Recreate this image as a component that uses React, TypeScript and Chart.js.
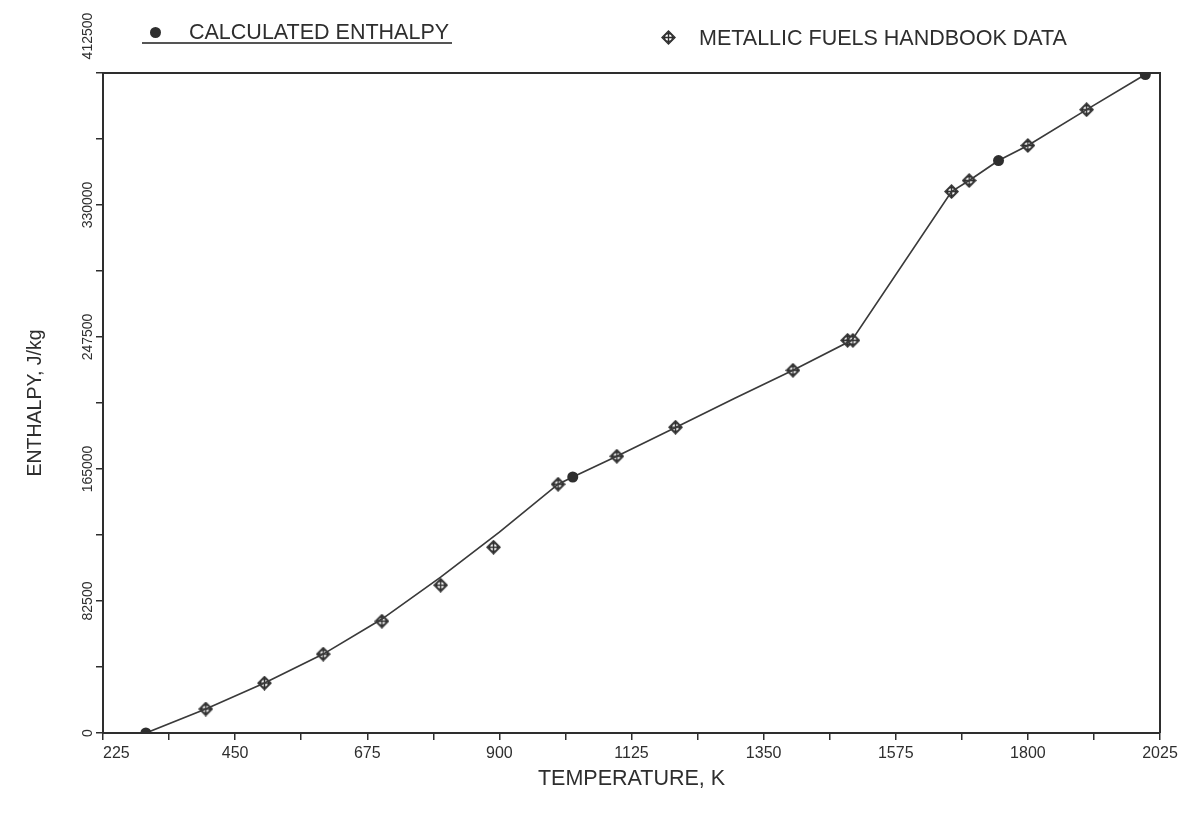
import React, { useEffect, useRef } from "react";
import { Chart, registerables } from "chart.js";

Chart.register(...registerables);

// Calculated enthalpy curve (K, J/kg)
const calcTemps = [298, 400, 500, 600, 700, 800, 900, 1000, 1025, 1100, 1200, 1300, 1400, 1500, 1670, 1700, 1750, 1800, 1900, 2000];
const calcEnthalpy = [0, 15000, 31200, 49300, 71200, 97400, 125500, 155500, 160000, 173000, 191000, 209000, 226700, 245400, 338400, 345300, 357800, 367200, 389600, 411500];
// Temperatures where the calculated curve shows a filled dot
const calcDotTemps = [298, 1025, 1750, 2000];

// Metallic Fuels Handbook data
const handbookTemps = [400, 500, 600, 700, 800, 890, 1000, 1100, 1200, 1400, 1493, 1502, 1670, 1700, 1800, 1900];
const handbookEnthalpy = [15000, 31200, 49300, 69900, 92400, 116100, 155500, 173000, 191100, 226700, 245400, 245400, 338400, 345300, 367200, 389600];

// Axis tick labels
const xTickLabels = [225, 450, 675, 900, 1125, 1350, 1575, 1800, 2025];
const yTickLabels = [0, 82500, 165000, 247500, 330000, 412500];

const FONT = '"Liberation Sans", Arial, Helvetica, sans-serif';
const INK = "#2e2e2e";
const W = 1186;
const H = 808;

function withMinor(major: number[]) {
  const out: number[] = [];
  major.forEach((v, i) => {
    out.push(v);
    if (i < major.length - 1) out.push((v + major[i + 1]) / 2);
  });
  return out;
}

function makeMarker() {
  const c = document.createElement("canvas");
  c.width = 15;
  c.height = 15;
  const g = c.getContext("2d")!;
  g.strokeStyle = INK;
  g.lineWidth = 1.4;
  g.fillStyle = "#ffffff";
  g.beginPath();
  g.moveTo(7.5, 1);
  g.lineTo(14, 7.5);
  g.lineTo(7.5, 14);
  g.lineTo(1, 7.5);
  g.closePath();
  g.fill();
  g.stroke();
  g.beginPath();
  g.arc(7.5, 7.5, 4, 0, Math.PI * 2);
  g.stroke();
  g.beginPath();
  g.moveTo(7.5, 2);
  g.lineTo(7.5, 13);
  g.moveTo(2, 7.5);
  g.lineTo(13, 7.5);
  g.stroke();
  return c;
}

const framePlugin = {
  id: "frame",
  afterDraw(chart: any) {
    const { ctx, chartArea: a } = chart;
    ctx.save();
    ctx.strokeStyle = INK;
    ctx.lineWidth = 2;
    ctx.beginPath();
    ctx.moveTo(a.left, a.top);
    ctx.lineTo(a.right, a.top);
    ctx.lineTo(a.right, a.bottom);
    ctx.stroke();
    ctx.restore();
  },
};

// leading spaces nudge the end labels away from the corner, as in the original
const PAD_TOP_Y = " ".repeat(19);
const PAD_FIRST_X = " ".repeat(6);

export default function App() {
  const ref = useRef<HTMLCanvasElement>(null);

  useEffect(() => {
    if (!ref.current) return;
    const marker = makeMarker();
    const yMax = yTickLabels[yTickLabels.length - 1];
    const xMin = xTickLabels[0];
    const chart = new Chart(ref.current, {
      type: "line",
      data: {
        datasets: [
          {
            label: "CALCULATED ENTHALPY",
            data: calcTemps.map((t, i) => ({ x: t, y: calcEnthalpy[i] })),
            borderColor: "#3a3a3a",
            borderWidth: 1.7,
            tension: 0,
            pointRadius: calcTemps.map((t) => (calcDotTemps.includes(t) ? 5.5 : 0)),
            pointBackgroundColor: INK,
            pointBorderColor: INK,
            pointBorderWidth: 0,
          },
          {
            label: "METALLIC FUELS HANDBOOK DATA",
            data: handbookTemps.map((t, i) => ({ x: t, y: handbookEnthalpy[i] })),
            showLine: false,
            pointStyle: marker as any,
            pointRadius: 7,
          },
        ],
      },
      options: {
        animation: false,
        responsive: false,
        layout: { padding: { top: 65, right: 34, bottom: 0, left: 0 } },
        plugins: { legend: { display: false }, tooltip: { enabled: false } },
        scales: {
          x: {
            type: "linear",
            min: 225,
            max: 2025,
            afterBuildTicks: (s: any) => {
              s.ticks = withMinor(xTickLabels).map((v) => ({ value: v }));
            },
            afterFit: (s: any) => {
              s.height = H - 725;
              s.paddingLeft = 0;
              s.paddingRight = 0;
            },
            ticks: {
              autoSkip: false,
              maxRotation: 0,
              minRotation: 0,
              padding: 4,
              color: INK,
              font: { family: FONT, size: 16 },
              callback: (v: any) => {
                const n = Number(v);
                if (!xTickLabels.includes(n)) return "";
                return n === xMin ? PAD_FIRST_X + String(n) : String(n);
              },
            },
            grid: { drawOnChartArea: false, drawTicks: true, tickLength: 7, color: INK, lineWidth: 1.5 },
            border: { display: true, color: INK, width: 2 },
            title: {
              display: true,
              text: "TEMPERATURE, K",
              color: INK,
              font: { family: FONT, size: 21.5 },
              padding: { top: 0, bottom: 24 },
            },
          },
          y: {
            type: "linear",
            min: 0,
            max: 412500,
            afterBuildTicks: (s: any) => {
              s.ticks = withMinor(yTickLabels).map((v) => ({ value: v }));
            },
            afterFit: (s: any) => {
              s.width = 95;
              s.paddingTop = 0;
              s.paddingBottom = 0;
            },
            ticks: {
              autoSkip: false,
              minRotation: 90,
              maxRotation: 90,
              crossAlign: "center",
              padding: -52,
              color: INK,
              font: { family: FONT, size: 14 },
              callback: (v: any) => {
                const n = Number(v);
                if (!yTickLabels.includes(n)) return "";
                return n === yMax ? PAD_TOP_Y + String(n) : String(n);
              },
            },
            grid: { drawOnChartArea: false, drawTicks: true, tickLength: 7, color: INK, lineWidth: 1.5 },
            border: { display: true, color: INK, width: 2 },
            title: {
              display: true,
              text: "ENTHALPY, J/kg",
              color: INK,
              font: { family: FONT, size: 19.5 },
              padding: { top: 16, bottom: 0 },
            },
          },
        },
      },
      plugins: [framePlugin],
    });
    return () => chart.destroy();
  }, []);

  const textStyle: React.CSSProperties = {
    position: "absolute",
    fontFamily: FONT,
    fontSize: "21.5px",
    color: INK,
    whiteSpace: "nowrap",
    lineHeight: "normal",
  };

  return (
    <div style={{ position: "relative", width: W, height: H }}>
      <canvas ref={ref} width={W} height={H} style={{ display: "block" }} />
      {/* Legend item 1 */}
      <div
        style={{
          position: "absolute",
          left: 141.5,
          top: 18.5,
          width: 11,
          height: 11,
          borderRadius: "50%",
          background: INK,
        }}
      />
      <div style={{ ...textStyle, left: 181, top: 12 }}>CALCULATED ENTHALPY</div>
      <div style={{ position: "absolute", left: 134, top: 34, width: 310, height: 2, background: "#555" }} />
      {/* Legend item 2 */}
      <svg style={{ position: "absolute", left: 652.5, top: 21.5 }} width={15} height={15} viewBox="0 0 15 15">
        <path d="M7.5 1 L14 7.5 L7.5 14 L1 7.5 Z" fill="#fff" stroke={INK} strokeWidth={1.4} />
        <circle cx={7.5} cy={7.5} r={4} fill="none" stroke={INK} strokeWidth={1.4} />
        <path d="M7.5 2 V13 M2 7.5 H13" stroke={INK} strokeWidth={1.4} />
      </svg>
      <div style={{ ...textStyle, left: 691, top: 18 }}>METALLIC FUELS HANDBOOK DATA</div>
    </div>
  );
}
